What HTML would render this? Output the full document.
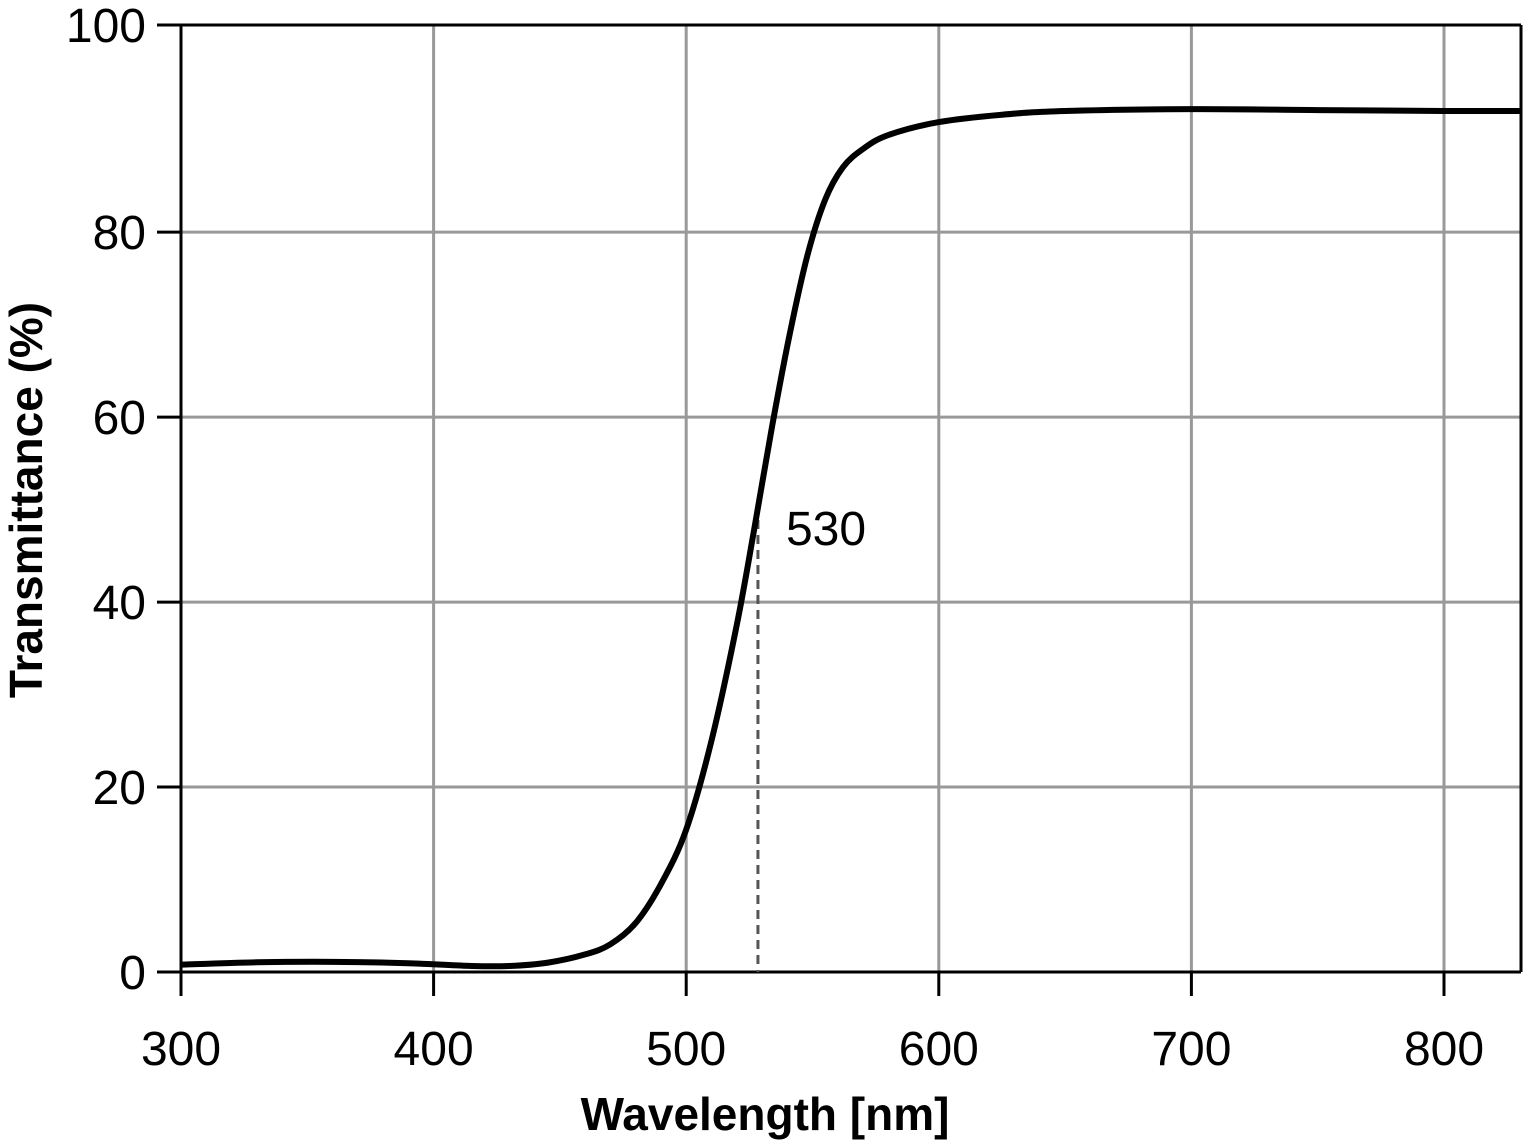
<!DOCTYPE html>
<html><head><meta charset="utf-8"><style>
html,body{margin:0;padding:0;background:#fff;}
svg{display:block;font-family:"Liberation Sans",sans-serif;}
</style></head><body>
<svg id="chart" width="1524" height="1145" viewBox="0 0 1524 1145">
<g id="grid"></g>
<g id="axes"></g>
<g id="series"></g>
<text x="30" y="500" transform="rotate(-90 30 500)" text-anchor="middle" dominant-baseline="middle" font-size="46" font-weight="bold">Transmittance (%)</text>
<text x="765" y="1130" text-anchor="middle" font-size="46" font-weight="bold">Wavelength [nm]</text>
</svg>
<script>
const wavelengths = [300,330,360,390,415,430,445,460,470,480,490,500,510,520,527,534,541,548,555,562,570,580,600,625,650,700,750,800,830];
const transmittance = [0.8,1.05,1.1,0.95,0.65,0.65,1.0,1.9,3.0,5.3,9.5,15.4,25,37.5,48,59,69,77.5,83.5,87,89,90.5,91.9,92.7,93.1,93.3,93.2,93.1,93.1];
const xTicks = [300,400,500,600,700,800];
const yTicks = [0,20,40,60,80];
const yTickLabels = ["0","20","40","60","80"];
const markerWavelength = [528.4];
const markerValue = [50.5];
const markerLabel = ["530"];

const L=181,R=1521,T=25,B=972;
const xMin=300,xMax=830.5,yMin=0,yMax=102.4;
const sx=v=>L+(v-xMin)*(1444-181)/(800-300);
const sy=v=>B-(v-yMin)*(B-T)/(yMax-yMin);
const NS='http://www.w3.org/2000/svg';
function mk(parent,tag,attrs){const e=document.createElementNS(NS,tag);for(const k in attrs)e.setAttribute(k,attrs[k]);parent.appendChild(e);return e;}
const grid=document.getElementById('grid'),axes=document.getElementById('axes'),series=document.getElementById('series');

xTicks.forEach((t,i)=>{
  const x=sx(t);
  if(i>0){const g=mk(grid,'line',{x1:x,y1:T,x2:x,y2:B,stroke:'#999','stroke-width':3});
  
  }
  const tk=mk(axes,'line',{x1:x,y1:B,x2:x,y2:B+24,stroke:'#000','stroke-width':3});
  
  
  const lb=mk(axes,'text',{x:x,y:1065,'text-anchor':'middle','font-size':48});
  lb.textContent=String(t);
  
  
});
yTicks.forEach((t,i)=>{
  const y=sy(t);
  if(i>0){const g=mk(grid,'line',{x1:L,y1:y,x2:R,y2:y,stroke:'#999','stroke-width':3});
  
  }
  const tk=mk(axes,'line',{x1:L-24,y1:y,x2:L,y2:y,stroke:'#000','stroke-width':3});
  
  
  const lb=mk(axes,'text',{x:146,y:y+17,'text-anchor':'end','font-size':48});
  lb.textContent=yTickLabels[i];
  
  
});
const tl=mk(axes,'line',{x1:L-24,y1:T,x2:R,y2:T,stroke:'#000','stroke-width':3});


const t100=mk(axes,'text',{x:146,y:T+17,'text-anchor':'end','font-size':48});
t100.textContent='100';


const rb=mk(axes,'line',{x1:R,y1:T,x2:R,y2:B,stroke:'#000','stroke-width':3});


const xa=mk(axes,'line',{x1:L-24,y1:B,x2:R,y2:B,stroke:'#000','stroke-width':3});


const ya=mk(axes,'line',{x1:L,y1:T,x2:L,y2:B+24,stroke:'#000','stroke-width':3});



const mx=sx(markerWavelength[0]);
const dl=mk(series,'line',{x1:mx,y1:sy(markerValue[0]),x2:mx,y2:B,stroke:'#555','stroke-width':3,'stroke-dasharray':'9,6'});


const ml=mk(series,'text',{x:mx+28,y:sy(markerValue[0])+40,'font-size':48});
ml.textContent=markerLabel[0];



const pts=wavelengths.map((w,i)=>[sx(w),sy(transmittance[i])]);
let d='M'+pts[0][0]+','+pts[0][1];
for(let i=0;i<pts.length-1;i++){
  const p0=pts[Math.max(0,i-1)],p1=pts[i],p2=pts[i+1],p3=pts[Math.min(pts.length-1,i+2)];
  const c1=[p1[0]+(p2[0]-p0[0])/6,p1[1]+(p2[1]-p0[1])/6];
  const c2=[p2[0]-(p3[0]-p1[0])/6,p2[1]-(p3[1]-p1[1])/6];
  d+=' C'+c1[0]+','+c1[1]+' '+c2[0]+','+c2[1]+' '+p2[0]+','+p2[1];
}
const cv=mk(series,'path',{d:d,fill:'none',stroke:'#000','stroke-width':6,'stroke-linejoin':'round'});


</script>
</body></html>
